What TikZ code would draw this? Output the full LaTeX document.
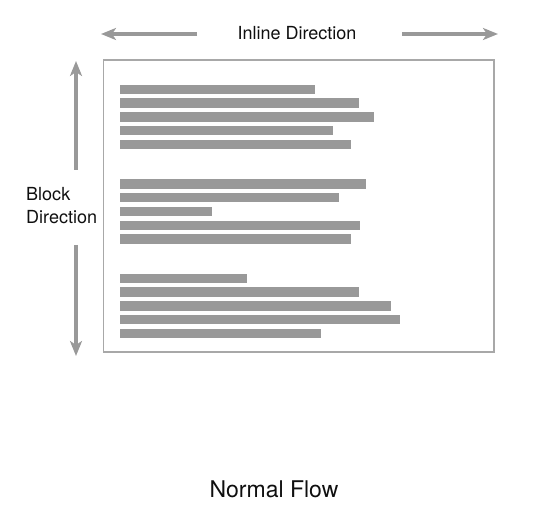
\documentclass[tikz,border=0pt]{standalone}
\usepackage{fontspec}
\setmainfont{TeX Gyre Heros}
\usetikzlibrary{arrows.meta}
\definecolor{flowgry}{RGB}{153,153,153}
\definecolor{boxgry}{RGB}{168,168,168}
\definecolor{txtblk}{RGB}{15,15,15}

\begin{document}
\begin{tikzpicture}[x=1pt, y=-1pt,
    dirarrow/.style={draw=flowgry, line width=4pt,
      -{Stealth[length=15pt, width=12pt, inset=4pt]}},
    lbl/.style={font=\fontsize{18}{22.7}\selectfont, text=txtblk, inner sep=0pt}]
        \useasboundingbox (0,0) rectangle (541,526);
        % page frame
        \draw[draw=boxgry, line width=1.5pt] (103.5,60) rectangle (494,352);
        % lines of text, three paragraphs
        \foreach \y/\r in {89.5/315, 103.2/359, 117/374, 130.6/333, 144.4/351,
                           184/366, 197.6/339, 211.6/212, 225.4/360, 239/351,
                           278.4/247, 292/359, 306/391, 319.8/400, 333.6/321}
          \fill[flowgry] (120,\y-4.7) rectangle (\r,\y+4.7);
        % labels
        \node[lbl] (inline) at (297,33) {Inline Direction};
        \node[lbl, align=left, anchor=west] (block) at (26,205.5) {Block\\Direction};
        \node[lbl, font=\fontsize{23}{28}\selectfont] (flow) at (274,489) {Normal Flow};
        % direction arrows
        \coordinate (inLs) at (197,34);
        \coordinate (inLe) at (101,34);
        \coordinate (inRs) at (402,34);
        \coordinate (inRe) at (498,34);
        \coordinate (blUs) at (76,170);
        \coordinate (blUe) at (76,61);
        \coordinate (blDs) at (76,245);
        \coordinate (blDe) at (76,356);
        \draw[dirarrow] (inLs) -- (inLe);
        \draw[dirarrow] (inRs) -- (inRe);
        \draw[dirarrow] (blUs) -- (blUe);
        \draw[dirarrow] (blDs) -- (blDe);
\end{tikzpicture}
\end{document}
